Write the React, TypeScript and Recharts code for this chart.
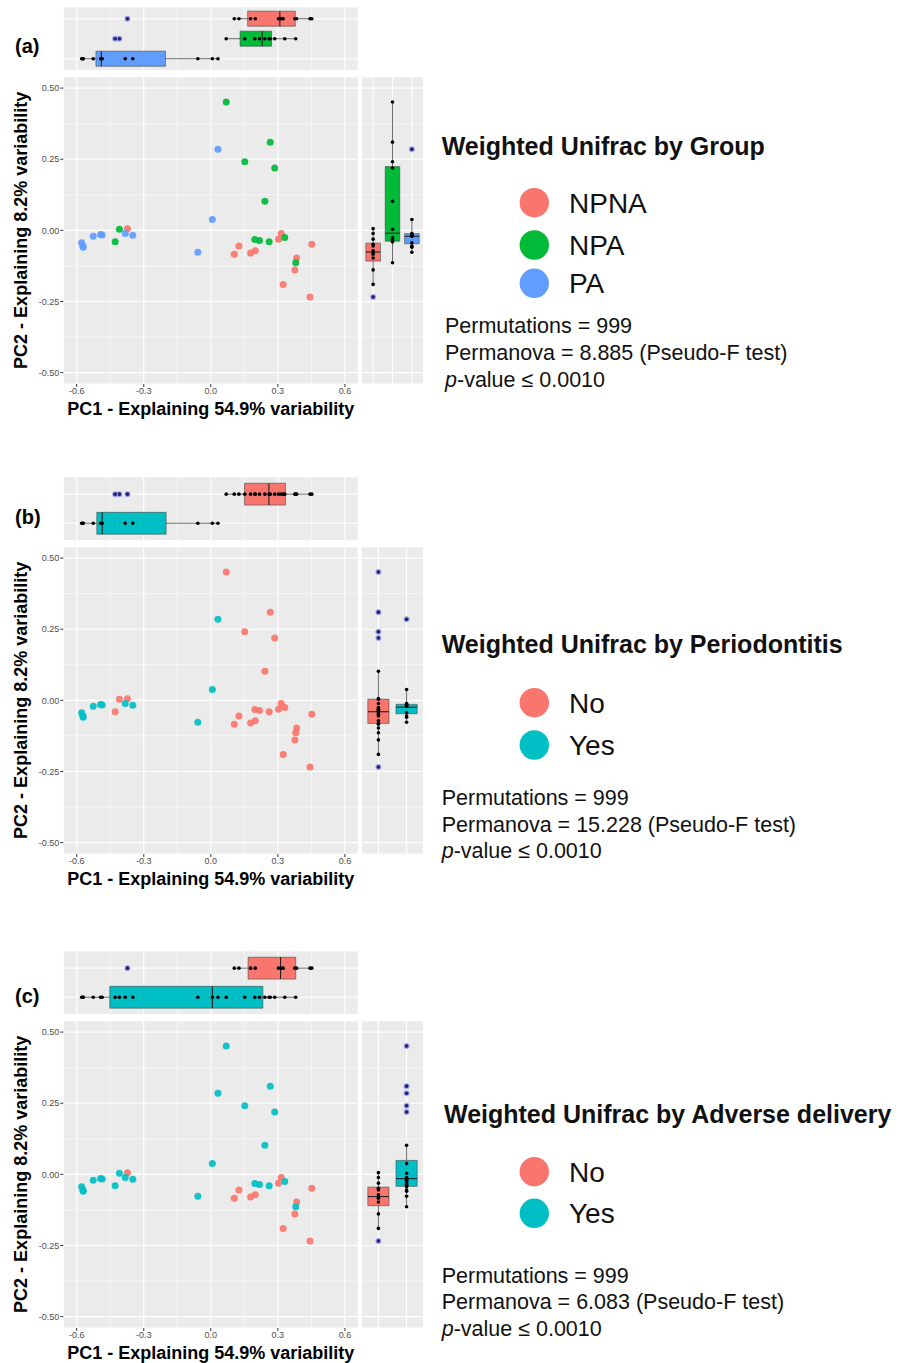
import React from 'react';
import {
  ScatterChart,
  Scatter,
  XAxis,
  YAxis,
  CartesianGrid,
  ReferenceArea,
  ReferenceLine,
} from 'recharts';

const FONT = '"Liberation Sans", Arial, Helvetica, sans-serif';
const PANEL_BG = '#EBEBEB';
const RED = '#F8766D';
const GREEN = '#00BA38';
const BLUE = '#619CFF';
const TEAL = '#00BFC4';

// PCoA coordinates (weighted UniFrac), one entry per sample
const pc1 = [
  -0.373, 0.126, 0.105, 0.178, 0.199, 0.315, 0.303, 0.452, 0.384, 0.376, 0.324, 0.444,
  0.069, 0.266, 0.152, 0.286, 0.242, -0.409, -0.428, 0.197, 0.218, 0.261, 0.331, 0.38,
  -0.578, -0.571, -0.526, -0.493, -0.572, -0.486, -0.383, -0.349, -0.058, 0.007, 0.032,
];
const pc2 = [
  0.006, -0.055, -0.084, -0.08, -0.072, -0.011, -0.031, -0.049, -0.097, -0.139, -0.19, -0.234,
  0.451, 0.31, 0.241, 0.219, 0.102, 0.004, -0.04, -0.032, -0.036, -0.04, -0.025, -0.114,
  -0.044, -0.059, -0.021, -0.015, -0.055, -0.016, -0.011, -0.017, -0.077, 0.038, 0.285,
];

// sample labels for each grouping
const groupLabels = [
  'NPNA', 'NPNA', 'NPNA', 'NPNA', 'NPNA', 'NPNA', 'NPNA', 'NPNA', 'NPNA', 'NPNA', 'NPNA', 'NPNA',
  'NPA', 'NPA', 'NPA', 'NPA', 'NPA', 'NPA', 'NPA', 'NPA', 'NPA', 'NPA', 'NPA', 'NPA',
  'PA', 'PA', 'PA', 'PA', 'PA', 'PA', 'PA', 'PA', 'PA', 'PA', 'PA',
];
const periodontitisLabels = [
  'No', 'No', 'No', 'No', 'No', 'No', 'No', 'No', 'No', 'No', 'No', 'No',
  'No', 'No', 'No', 'No', 'No', 'No', 'No', 'No', 'No', 'No', 'No', 'No',
  'Yes', 'Yes', 'Yes', 'Yes', 'Yes', 'Yes', 'Yes', 'Yes', 'Yes', 'Yes', 'Yes',
];
const adverseLabels = [
  'No', 'No', 'No', 'No', 'No', 'No', 'No', 'No', 'No', 'No', 'No', 'No',
  'Yes', 'Yes', 'Yes', 'Yes', 'Yes', 'Yes', 'Yes', 'Yes', 'Yes', 'Yes', 'Yes', 'Yes',
  'Yes', 'Yes', 'Yes', 'Yes', 'Yes', 'Yes', 'Yes', 'Yes', 'Yes', 'Yes', 'Yes',
];

// marginal boxplot stats (whisker lo, q1, median, q3, whisker hi)
const groupTopBoxes = [
  { level: 'NPNA', lo: 0.105, q1: 0.165, med: 0.309, q3: 0.378, hi: 0.452 },
  { level: 'NPA', lo: 0.069, q1: 0.131, med: 0.23, q3: 0.272, hi: 0.38 },
  { level: 'PA', lo: -0.578, q1: -0.514, med: -0.49, q3: -0.203, hi: 0.032 },
];
const groupRightBoxes = [
  { level: 'NPNA', lo: -0.19, q1: -0.108, med: -0.076, q3: -0.045, hi: 0.006 },
  { level: 'NPA', lo: -0.114, q1: -0.038, med: -0.01, q3: 0.224, hi: 0.451 },
  { level: 'PA', lo: -0.077, q1: -0.047, med: -0.021, q3: -0.012, hi: 0.038 },
];
const perioTopBoxes = [
  { level: 'No', lo: 0.069, q1: 0.151, med: 0.26, q3: 0.334, hi: 0.452 },
  { level: 'Yes', lo: -0.578, q1: -0.51, med: -0.486, q3: -0.2, hi: 0.032 },
];
const perioRightBoxes = [
  { level: 'No', lo: -0.19, q1: -0.081, med: -0.04, q3: 0.004, hi: 0.102 },
  { level: 'Yes', lo: -0.077, q1: -0.047, med: -0.024, q3: -0.014, hi: 0.038 },
];
const adverseTopBoxes = [
  { level: 'No', lo: 0.105, q1: 0.167, med: 0.312, q3: 0.38, hi: 0.452 },
  { level: 'Yes', lo: -0.578, q1: -0.452, med: 0.007, q3: 0.233, hi: 0.38 },
];
const adverseRightBoxes = [
  { level: 'No', lo: -0.19, q1: -0.11, med: -0.078, q3: -0.045, hi: 0.006 },
  { level: 'Yes', lo: -0.114, q1: -0.042, med: -0.015, q3: 0.049, hi: 0.102 },
];

const xTicks = [-0.6, -0.3, 0, 0.3, 0.6];
const xMinor = [-0.45, -0.15, 0.15, 0.45];
const yTicks = [-0.5, -0.25, 0, 0.25, 0.5];
const yMinor = [-0.375, -0.125, 0.125, 0.375];
const X_DOMAIN = [-0.66, 0.66];
const Y_DOMAIN = [-0.54, 0.54];

// plot area edges (px)
const PLOT_L = 63.3;
const PLOT_R = 358.3;
const PLOT_T = 76.7;
const PLOT_B = 384;
const HALF_BOX = 0.375;

const panels = [
  {
    tag: '(a)',
    offset: 0,
    labels: groupLabels,
    levels: ['NPNA', 'NPA', 'PA'],
    colors: [RED, GREEN, BLUE],
    top: groupTopBoxes,
    right: groupRightBoxes,
    title: 'Weighted Unifrac by Group',
    permanova: '8.885',
    pos: { tagY: 53, titleX: 441.7, titleY: 155, itemY: [212.7, 255, 293.3], statsX: 445, statsY: [333.3, 360, 386.7] },
  },
  {
    tag: '(b)',
    offset: 470,
    labels: periodontitisLabels,
    levels: ['No', 'Yes'],
    colors: [RED, TEAL],
    top: perioTopBoxes,
    right: perioRightBoxes,
    title: 'Weighted Unifrac by Periodontitis',
    permanova: '15.228',
    pos: { tagY: 524, titleX: 441.7, titleY: 653.3, itemY: [712.7, 755], statsX: 441.7, statsY: [805, 831.7, 858.3] },
  },
  {
    tag: '(c)',
    offset: 944,
    labels: adverseLabels,
    levels: ['No', 'Yes'],
    colors: [RED, TEAL],
    top: adverseTopBoxes,
    right: adverseRightBoxes,
    title: 'Weighted Unifrac by Adverse delivery',
    permanova: '6.083',
    pos: { tagY: 1003, titleX: 444, titleY: 1123.3, itemY: [1181.7, 1223.3], statsX: 441.7, statsY: [1282.7, 1309.3, 1336] },
  },
];

const blackDot = (p: any) => <circle cx={p.cx} cy={p.cy} r={1.8} fill="#000" />;
const outlierDot = (p: any) => (
  <g>
    <circle cx={p.cx} cy={p.cy} r={3} fill="#8c8ce0" fillOpacity={0.75} />
    <circle cx={p.cx} cy={p.cy} r={1.8} fill="#20207e" />
  </g>
);

const isOut = (v: number, b: any) => v < b.lo - 1e-9 || v > b.hi + 1e-9;

function MainScatter({ labels, levels, colors }: any) {
  const W = 362;
  const H = 425;
  return (
    <ScatterChart
      width={W}
      height={H}
      margin={{ top: PLOT_T, right: W - PLOT_R, bottom: H - PLOT_B - 40, left: 0 }}
    >
      <CartesianGrid fill={PANEL_BG} fillOpacity={1} stroke="#fff" strokeWidth={1.1} />
      <CartesianGrid verticalValues={xMinor} horizontalValues={yMinor} stroke="#fff" strokeWidth={0.6} />
      <XAxis
        type="number"
        dataKey="x"
        domain={X_DOMAIN}
        ticks={xTicks}
        allowDataOverflow
        height={40}
        axisLine={false}
        tickSize={3}
        tickMargin={1}
        tickLine={{ stroke: '#333' }}
        tick={{ fontSize: 9, fill: '#4d4d4d', fontFamily: FONT }}
        tickFormatter={(v: number) => v.toFixed(1)}
        label={{
          value: 'PC1 - Explaining 54.9% variability',
          position: 'insideBottom',
          offset: 9.5,
          style: { fontSize: 18, fontWeight: 700, fill: '#000', fontFamily: FONT },
        }}
      />
      <YAxis
        type="number"
        dataKey="y"
        domain={Y_DOMAIN}
        ticks={yTicks}
        allowDataOverflow
        width={PLOT_L}
        axisLine={false}
        tickSize={3}
        tickMargin={1}
        tickLine={{ stroke: '#333' }}
        tick={{ fontSize: 9, fill: '#4d4d4d', fontFamily: FONT }}
        tickFormatter={(v: number) => v.toFixed(2)}
        label={{
          value: 'PC2 - Explaining 8.2% variability',
          angle: -90,
          position: 'insideLeft',
          offset: 21,
          style: { textAnchor: 'middle', fontSize: 18, fontWeight: 700, fill: '#000', fontFamily: FONT },
        }}
      />
      {levels.map((lv: string, k: number) => (
        <Scatter
          key={lv}
          name={lv}
          data={pc1.map((x, i) => ({ x, y: pc2[i], g: labels[i] })).filter((d) => d.g === lv)}
          isAnimationActive={false}
          shape={(p: any) => <circle cx={p.cx} cy={p.cy} r={3.5} fill={colors[k]} fillOpacity={0.92} />}
        />
      ))}
    </ScatterChart>
  );
}

function TopMarginal({ boxes, labels, colors }: any) {
  const W = 362;
  const H = 72;
  const n = boxes.length;
  const rows = boxes.map((_: any, k: number) => n - k);
  const dots = boxes.flatMap((b: any, k: number) =>
    pc1.filter((_, i) => labels[i] === b.level).map((x) => ({ x, y: n - k }))
  );
  const outliers = boxes.flatMap((b: any, k: number) =>
    pc1.filter((x, i) => labels[i] === b.level && isOut(x, b)).map((x) => ({ x, y: n - k }))
  );
  return (
    <ScatterChart width={W} height={H} margin={{ top: 6.7, right: W - PLOT_R, bottom: H - 70.7, left: PLOT_L }}>
      <CartesianGrid fill={PANEL_BG} fillOpacity={1} stroke="#fff" strokeWidth={1.1} />
      <CartesianGrid verticalValues={xMinor} horizontal={false} stroke="#fff" strokeWidth={0.6} />
      <XAxis type="number" dataKey="x" domain={X_DOMAIN} ticks={xTicks} hide allowDataOverflow />
      <YAxis type="number" dataKey="y" domain={[0.4, n + 0.6]} ticks={rows} hide allowDataOverflow />
      {boxes.flatMap((b: any, k: number) => {
        const r = n - k;
        return [
          <ReferenceLine key={`wl${k}`} segment={[{ x: b.lo, y: r }, { x: b.q1, y: r }]} stroke="#333" strokeWidth={0.7} />,
          <ReferenceLine key={`wh${k}`} segment={[{ x: b.q3, y: r }, { x: b.hi, y: r }]} stroke="#333" strokeWidth={0.7} />,
          <ReferenceArea
            key={`bx${k}`}
            x1={b.q1}
            x2={b.q3}
            y1={r - HALF_BOX}
            y2={r + HALF_BOX}
            fill={colors[k]}
            fillOpacity={1}
            stroke="#444"
            strokeWidth={0.6}
          />,
          <ReferenceLine
            key={`md${k}`}
            segment={[{ x: b.med, y: r - HALF_BOX }, { x: b.med, y: r + HALF_BOX }]}
            stroke="#222"
            strokeWidth={1.1}
          />,
        ];
      })}
      <Scatter data={dots} isAnimationActive={false} shape={blackDot} />
      <Scatter data={outliers} isAnimationActive={false} shape={outlierDot} />
    </ScatterChart>
  );
}

function RightMarginal({ boxes, labels, colors }: any) {
  const W = 66;
  const H = 392;
  const n = boxes.length;
  const cols = boxes.map((_: any, k: number) => k + 1);
  const dots = boxes.flatMap((b: any, k: number) =>
    pc2.filter((_, i) => labels[i] === b.level).map((y) => ({ x: k + 1, y }))
  );
  const outliers = boxes.flatMap((b: any, k: number) =>
    pc2.filter((y, i) => labels[i] === b.level && isOut(y, b)).map((y) => ({ x: k + 1, y }))
  );
  return (
    <ScatterChart width={W} height={H} margin={{ top: PLOT_T, right: 2.5, bottom: H - PLOT_B, left: 1.5 }}>
      <CartesianGrid fill={PANEL_BG} fillOpacity={1} stroke="#fff" strokeWidth={1.1} />
      <CartesianGrid horizontalValues={yMinor} vertical={false} stroke="#fff" strokeWidth={0.6} />
      <XAxis type="number" dataKey="x" domain={[0.4, n + 0.6]} ticks={cols} hide allowDataOverflow />
      <YAxis type="number" dataKey="y" domain={Y_DOMAIN} ticks={yTicks} hide allowDataOverflow />
      {boxes.flatMap((b: any, k: number) => {
        const c = k + 1;
        return [
          <ReferenceLine key={`wl${k}`} segment={[{ x: c, y: b.lo }, { x: c, y: b.q1 }]} stroke="#333" strokeWidth={0.7} />,
          <ReferenceLine key={`wh${k}`} segment={[{ x: c, y: b.q3 }, { x: c, y: b.hi }]} stroke="#333" strokeWidth={0.7} />,
          <ReferenceArea
            key={`bx${k}`}
            x1={c - HALF_BOX}
            x2={c + HALF_BOX}
            y1={b.q1}
            y2={b.q3}
            fill={colors[k]}
            fillOpacity={1}
            stroke="#444"
            strokeWidth={0.6}
          />,
          <ReferenceLine
            key={`md${k}`}
            segment={[{ x: c - HALF_BOX, y: b.med }, { x: c + HALF_BOX, y: b.med }]}
            stroke="#222"
            strokeWidth={1.1}
          />,
        ];
      })}
      <Scatter data={dots} isAnimationActive={false} shape={blackDot} />
      <Scatter data={outliers} isAnimationActive={false} shape={outlierDot} />
    </ScatterChart>
  );
}

function Annotations() {
  return (
    <svg
      width={912}
      height={1363}
      style={{ position: 'absolute', left: 0, top: 0, pointerEvents: 'none' }}
      fontFamily={FONT}
    >
      {panels.map((p) => (
        <g key={p.tag}>
          <text x={15} y={p.pos.tagY} fontSize={20} fontWeight={700} fill="#000">
            {p.tag}
          </text>
          <text x={p.pos.titleX} y={p.pos.titleY} fontSize={25} fontWeight={700} fill="#111">
            {p.title}
          </text>
          {p.levels.map((lv, k) => (
            <g key={lv}>
              <circle cx={534.3} cy={p.pos.itemY[k] - 10} r={14.7} fill={p.colors[k]} />
              <text x={569} y={p.pos.itemY[k]} fontSize={28} fill="#111">
                {lv}
              </text>
            </g>
          ))}
          <text x={p.pos.statsX} y={p.pos.statsY[0]} fontSize={21.5} fill="#111">
            Permutations = 999
          </text>
          <text x={p.pos.statsX} y={p.pos.statsY[1]} fontSize={21.5} fill="#111">
            {`Permanova = ${p.permanova} (Pseudo-F test)`}
          </text>
          <text x={p.pos.statsX} y={p.pos.statsY[2]} fontSize={21.5} fill="#111">
            <tspan fontStyle="italic">p</tspan>-value ≤ 0.0010
          </text>
        </g>
      ))}
    </svg>
  );
}

export default function App() {
  return (
    <div style={{ position: 'absolute', left: 0, top: 0, width: 912, height: 1363, background: '#fff', fontFamily: FONT }}>
      {panels.map((p) => (
        <React.Fragment key={p.tag}>
          <div style={{ position: 'absolute', left: 0, top: p.offset }}>
            <TopMarginal boxes={p.top} labels={p.labels} colors={p.colors} />
          </div>
          <div style={{ position: 'absolute', left: 0, top: p.offset }}>
            <MainScatter labels={p.labels} levels={p.levels} colors={p.colors} />
          </div>
          <div style={{ position: 'absolute', left: 360, top: p.offset }}>
            <RightMarginal boxes={p.right} labels={p.labels} colors={p.colors} />
          </div>
        </React.Fragment>
      ))}
      <Annotations />
    </div>
  );
}
